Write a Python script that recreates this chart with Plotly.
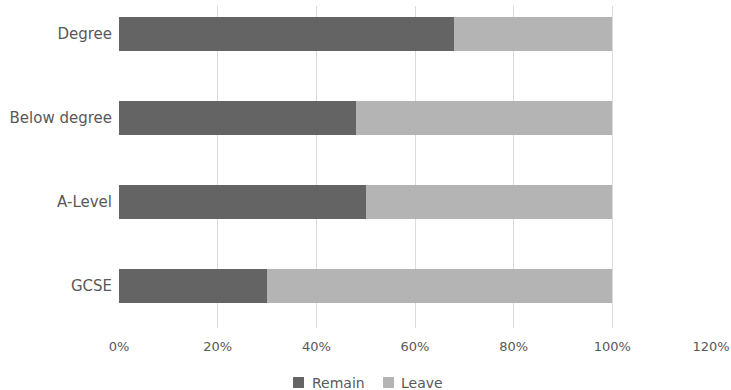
import plotly.graph_objects as go

# Share of each education group voting Remain / Leave
categories = ["GCSE", "A-Level", "Below degree", "Degree"]
remain = [0.30, 0.50, 0.48, 0.68]
leave = [0.70, 0.50, 0.52, 0.32]

x_ticks = [0, 0.2, 0.4, 0.6, 0.8, 1.0, 1.2]
x_tick_labels = ["0%", "20%", "40%", "60%", "80%", "100%", "120%"]

series_names = ["Remain", "Leave"]
series_colors = ["#646464", "#b4b4b4"]

text_color = "#595959"
font_family = "DejaVu Sans, Verdana, sans-serif"

W, H = 731, 390
M_L, M_R, M_T, M_B = 119, 20, 6, 62
plot_w = W - M_L - M_R
plot_h = H - M_T - M_B


def px_x(px):
    return (px - M_L) / plot_w


def px_y(py):
    return (H - M_B - py) / plot_h


fig = go.Figure()
for name, vals, col in zip(series_names, [remain, leave], series_colors):
    fig.add_trace(go.Bar(
        y=categories, x=vals, name=name, orientation="h",
        marker=dict(color=col, line=dict(width=0)), width=0.4,
        showlegend=False,
    ))

# Compact legend row centred under the chart
legend_items = [(293, 310), (383, 399)]
for (sx, tx), name, col in zip(legend_items, series_names, series_colors):
    fig.add_shape(
        type="rect", xref="paper", yref="paper",
        x0=px_x(sx), x1=px_x(sx + 11), y0=px_y(388), y1=px_y(377),
        fillcolor=col, line=dict(width=0),
    )
    fig.add_annotation(
        text=name, xref="paper", yref="paper",
        x=px_x(tx), y=px_y(382.5), xanchor="left", yanchor="middle",
        showarrow=False, font=dict(size=14, color=text_color),
    )

fig.update_layout(
    barmode="stack",
    width=W, height=H,
    margin=dict(l=M_L, r=M_R, t=M_T, b=M_B, autoexpand=False),
    paper_bgcolor="white", plot_bgcolor="white",
    font=dict(family=font_family, size=14, color=text_color),
    showlegend=False,
    xaxis=dict(
        range=[0, 1.2], tickvals=x_ticks, ticktext=x_tick_labels,
        tickfont=dict(size=13), automargin=False,
        showgrid=True, gridcolor="#d9d9d9", gridwidth=1,
        zeroline=False, showline=False, ticks="",
        ticklabelstandoff=9,
    ),
    yaxis=dict(
        categoryorder="array", categoryarray=categories,
        range=[-0.5, 3.33], showgrid=False, zeroline=False,
        showline=False, ticks="", ticklabelstandoff=6,
        tickfont=dict(size=15), automargin=False,
    ),
)

fig.write_html("out.html")
